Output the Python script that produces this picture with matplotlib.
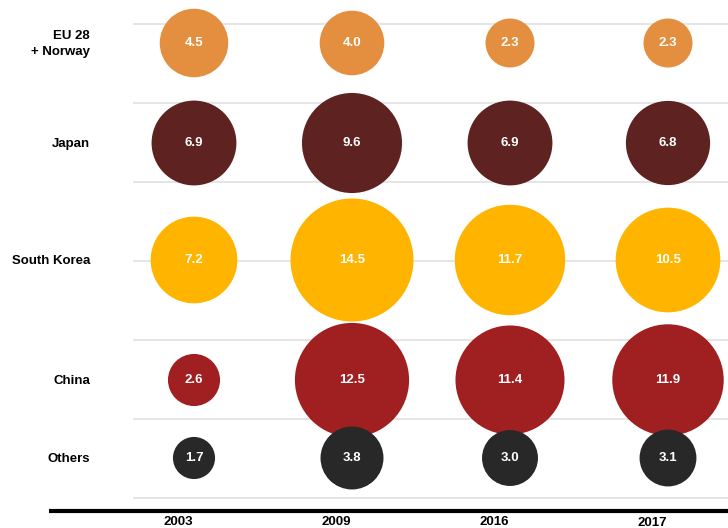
import matplotlib
matplotlib.use("Agg")
import matplotlib.pyplot as plt
import numpy as np

plt.rcParams['font.family'] = ['Liberation Sans', 'DejaVu Sans']

# Data
years = ["2003", "2009", "2016", "2017"]
regions = ["EU 28\n+ Norway", "Japan", "South Korea", "China", "Others"]
eu_norway = [4.5, 4.0, 2.3, 2.3]
japan = [6.9, 9.6, 6.9, 6.8]
south_korea = [7.2, 14.5, 11.7, 10.5]
china = [2.6, 12.5, 11.4, 11.9]
others = [1.7, 3.8, 3.0, 3.1]
series = [eu_norway, japan, south_korea, china, others]
colors = ["#E38F3F", "#5E2220", "#FFB400", "#A01F20", "#282828"]

# Layout (vertical positions, in pixels from the top)
W, H, DPI = 728, 528, 100
row_y = [43, 143, 260, 380, 458]
grid_y = [24 + 79 * k for k in range(7)]
col_px0, col_step = 194, 158          # horizontal placement of the year columns
px_per_sqrt = 32.3                    # bubble diameter (px) per sqrt(value)

fig = plt.figure(figsize=(W / DPI, H / DPI), dpi=DPI)
ax = fig.add_axes([0, 0, 1, 1])
ax.set_xlim(-col_px0 / col_step, (W - col_px0) / col_step)
ax.set_ylim(H, 0)
ax.axis("off")

def px_to_x(px):
    return (px - col_px0) / col_step

# light horizontal grid lines
for gy in grid_y:
    ax.plot([px_to_x(133), px_to_x(W)], [gy, gy], color="#E3E3E3", lw=1.3,
            zorder=0, solid_capstyle="butt")

# thick baseline
ax.plot([px_to_x(49), px_to_x(W)], [511, 511], color="black", lw=3.0,
        zorder=1, solid_capstyle="butt")

xs = np.arange(len(years))
for vals, yy, col in zip(series, row_y, colors):
    vals = np.asarray(vals)
    diam_pt = px_per_sqrt * np.sqrt(vals) * 72 / DPI
    ax.scatter(xs, [yy] * len(xs), s=diam_pt ** 2, color=col,
               edgecolors="none", zorder=2)
    for x, v in zip(xs, vals):
        ax.text(x, yy, f"{v:.1f}", color="white", fontsize=9.5,
                fontweight="bold", ha="center", va="center", zorder=3)

# row labels
for lab, yy in zip(regions, row_y):
    ax.text(px_to_x(90), yy + 1, lab, color="black", fontsize=9.5,
            fontweight="bold", ha="right", va="center", linespacing=1.55)

# year labels
year_dy = [522, 522, 522, 523.5]
for x, lab, yy in zip(xs, years, year_dy):
    ax.text(x - 16 / col_step, yy, lab, color="black", fontsize=9.5,
            fontweight="bold", ha="center", va="center")

fig.savefig("out.png", dpi=DPI)
